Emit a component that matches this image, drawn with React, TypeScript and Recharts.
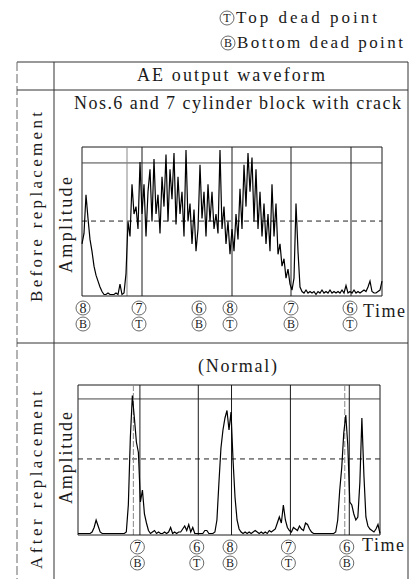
import { Line, LineChart, ReferenceLine, XAxis, YAxis } from "recharts";

// AE output waveform, before / after cylinder block replacement.
// Time runs 0..300 (step 2), amplitude 0..100 (top of the plot box).

const STEP = 2;

const beforeAmp = [
  35, 42, 68, 52, 38, 30, 20, 14, 10, 6,
  3, 1, 1, 2, 1, 1, 1, 2, 1, 8,
  1, 2, 15, 50, 40, 75, 55, 60, 45, 90,
  55, 75, 40, 70, 85, 50, 92, 55, 68, 42,
  80, 60, 95, 50, 85, 65, 96, 48, 80, 55,
  70, 40, 98, 50, 62, 35, 58, 30, 45, 88,
  52, 70, 40, 75, 50, 70, 45, 55, 42, 98,
  45, 60, 35, 50, 28, 45, 30, 55, 38, 72,
  45, 88, 60, 96, 70, 93, 50, 85, 45, 70,
  40, 62, 35, 55, 30, 75, 40, 62, 28, 35,
  20, 25, 12, 18, 8, 4, 12, 62, 30, 6,
  3, 2, 4, 2, 3, 2, 3, 1, 3, 2,
  4, 2, 3, 2, 4, 2, 3, 2, 3, 2,
  4, 2, 7, 2, 3, 2, 4, 2, 3, 2,
  3, 4, 3, 6, 10, 3, 2, 2, 3, 4,
  10,
];

const afterAmp = [
  1, 1, 1, 1, 1, 1, 1, 2, 5, 10,
  6, 2, 1, 1, 1, 1, 1, 1, 1, 1,
  1, 1, 1, 1, 2, 20, 65, 93, 78, 62,
  55, 22, 30, 14, 8, 3, 1, 2, 3, 1,
  2, 1, 1, 2, 1, 2, 5, 1, 2, 1,
  2, 2, 4, 6, 3, 7, 2, 5, 1, 1,
  1, 1, 1, 3, 3, 1, 1, 1, 2, 10,
  35, 58, 70, 78, 83, 70, 82, 50, 25, 10,
  4, 2, 1, 2, 1, 2, 1, 2, 3, 2,
  1, 2, 1, 2, 1, 3, 2, 3, 4, 8,
  12, 8, 20, 10, 5, 3, 2, 5, 4, 3,
  6, 4, 3, 8, 7, 4, 2, 1, 1, 1,
  1, 1, 1, 1, 1, 1, 1, 1, 2, 10,
  30, 45, 68, 80, 60, 22, 20, 14, 10, 12,
  35, 78, 40, 12, 6, 4, 3, 2, 4, 7,
  1,
];

// tick positions + circled labels (cylinder no. / dead point)
const beforeTicks = [1, 57, 117, 148, 209, 268];
const beforeCyl = ["8", "7", "6", "8", "7", "6"];
const beforeDead = ["B", "T", "B", "T", "B", "T"];
const beforeMarks = [60, 150, 209, 269];
const beforeGuides = [45];

const afterTicks = [59, 118, 151, 209, 267];
const afterCyl = ["7", "6", "8", "7", "6"];
const afterDead = ["B", "T", "B", "T", "B"];
const afterMarks = [61.5, 119.5, 152.5, 211, 269.5];
const afterGuides = [55, 265];

const INK = "#1a1a1a";
const SERIF = "Liberation Serif, Times New Roman, serif";

function DeadPointTick(props: any) {
  const { x, y, index, cyl, dead } = props;
  return (
    <g transform={`translate(${x},${y})`} style={{ fontFamily: SERIF }}>
      <circle cx={0} cy={12} r={7} fill="none" stroke="#444" strokeWidth={0.8} />
      <text x={0} y={12} dy="0.35em" textAnchor="middle" fontSize={14} fill={INK} style={{ fontFamily: SERIF }}>
        {cyl[index]}
      </text>
      <circle cx={0} cy={28} r={7} fill="none" stroke="#444" strokeWidth={0.8} />
      <text x={0} y={28} dy="0.35em" textAnchor="middle" fontSize={12} fill={INK} style={{ fontFamily: SERIF }}>
        {dead[index]}
      </text>
    </g>
  );
}

interface WaveProps {
  amp: number[];
  ticks: number[];
  cyl: string[];
  dead: string[];
  marks: number[];
  guides: number[];
  guideDash?: string;
  upper: number;
  mid: number;
  left: number;
  right: number;
  bottom: number;
}

function Wave(props: WaveProps) {
  const { amp, ticks, cyl, dead, marks, guides, guideDash, upper, mid, left, right, bottom } = props;
  const rows = amp.map((a, i) => ({ t: i * STEP, a }));
  return (
    <LineChart width={412} height={200} data={rows} margin={{ top: 7, right, bottom, left }}>
      <XAxis
        dataKey="t"
        type="number"
        domain={[0, 300]}
        ticks={ticks}
        interval={0}
        height={40}
        tickSize={0}
        tickMargin={0}
        tickLine={false}
        axisLine={{ stroke: INK, strokeWidth: 1 }}
        tick={(p: any) => <DeadPointTick {...p} cyl={cyl} dead={dead} />}
      />
      <YAxis hide domain={[0, 100]} />
      <ReferenceLine x={0} stroke={INK} />
      <ReferenceLine x={300} stroke={INK} />
      <ReferenceLine y={100} stroke={INK} />
      <ReferenceLine y={upper} stroke="#444" />
      <ReferenceLine y={mid} stroke="#222" strokeDasharray="5 4" />
      {guides.map((g) => (
        <ReferenceLine key={`g${g}`} x={g} stroke="#888" strokeDasharray={guideDash} />
      ))}
      {marks.map((m) => (
        <ReferenceLine key={`m${m}`} x={m} stroke={INK} />
      ))}
      <Line
        type="linear"
        dataKey="a"
        stroke="#000"
        strokeWidth={1.2}
        dot={false}
        isAnimationActive={false}
      />
    </LineChart>
  );
}

export default function App() {
  return (
    <div
      style={{
        position: "absolute",
        left: 0,
        top: 0,
        width: 412,
        height: 579,
        background: "#fff",
        overflow: "hidden",
      }}
    >
      <svg width={412} height={579} style={{ position: "absolute", left: 0, top: 0 }}>
        <g stroke="#333" strokeWidth={1} fill="none">
          <line x1={17} y1={62} x2={408} y2={62} />
          <line x1={17} y1={62} x2={17} y2={579} stroke="#666" strokeDasharray="9 3" />
          <line x1={54} y1={62} x2={54} y2={579} />
          <line x1={408} y1={62} x2={408} y2={579} />
          <line x1={17} y1={90} x2={408} y2={90} />
          <line x1={17} y1={343} x2={408} y2={343} />
        </g>
        <g fill={INK} fontSize={17} style={{ fontFamily: SERIF }}>
          <circle cx={227} cy={18} r={7} fill="none" stroke="#444" strokeWidth={0.8} />
          <text x={227} y={18} dy="0.35em" textAnchor="middle" fontSize={12}>T</text>
          <text x={236} y={23} textLength={141} lengthAdjust="spacing">Top dead point</text>
          <circle cx={228} cy={43} r={7} fill="none" stroke="#444" strokeWidth={0.8} />
          <text x={228} y={43} dy="0.35em" textAnchor="middle" fontSize={12}>B</text>
          <text x={237} y={48} textLength={166} lengthAdjust="spacing">Bottom dead point</text>

          <text x={137} y={81} fontSize={18} textLength={188} lengthAdjust="spacing">AE output  waveform</text>
          <text x={74} y={109} fontSize={18} textLength={327} lengthAdjust="spacing">
            Nos.6 and 7 cylinder block with crack
          </text>
          <text x={198} y={372} fontSize={18} textLength={79} lengthAdjust="spacing">(Normal)</text>

          <text x={363} y={317} fontSize={18} textLength={42} lengthAdjust="spacing">Time</text>
          <text x={362} y={551} fontSize={18} textLength={42} lengthAdjust="spacing">Time</text>

          <text transform="translate(72,225) rotate(-90)" textAnchor="middle" fontSize={18} textLength={96} lengthAdjust="spacing">
            Amplitude
          </text>
          <text transform="translate(72,458) rotate(-90)" textAnchor="middle" fontSize={18} textLength={92} lengthAdjust="spacing">
            Amplitude
          </text>
          <text transform="translate(42,207) rotate(-90)" textAnchor="middle" fontSize={17} textLength={190} lengthAdjust="spacing">
            Before replacement
          </text>
          <text transform="translate(42,480) rotate(-90)" textAnchor="middle" fontSize={17} textLength={178} lengthAdjust="spacing">
            After replacement
          </text>
        </g>
      </svg>

      <div style={{ position: "absolute", left: 0, top: 140 }}>
        <Wave
          amp={beforeAmp}
          ticks={beforeTicks}
          cyl={beforeCyl}
          dead={beforeDead}
          marks={beforeMarks}
          guides={beforeGuides}
          upper={89.3}
          mid={50.3}
          left={82}
          right={30}
          bottom={4}
        />
      </div>
      <div style={{ position: "absolute", left: 0, top: 378 }}>
        <Wave
          amp={afterAmp}
          ticks={afterTicks}
          cyl={afterCyl}
          dead={afterDead}
          marks={afterMarks}
          guides={afterGuides}
          guideDash="6 2"
          upper={90.7}
          mid={50.7}
          left={78}
          right={32}
          bottom={3}
        />
      </div>
    </div>
  );
}
